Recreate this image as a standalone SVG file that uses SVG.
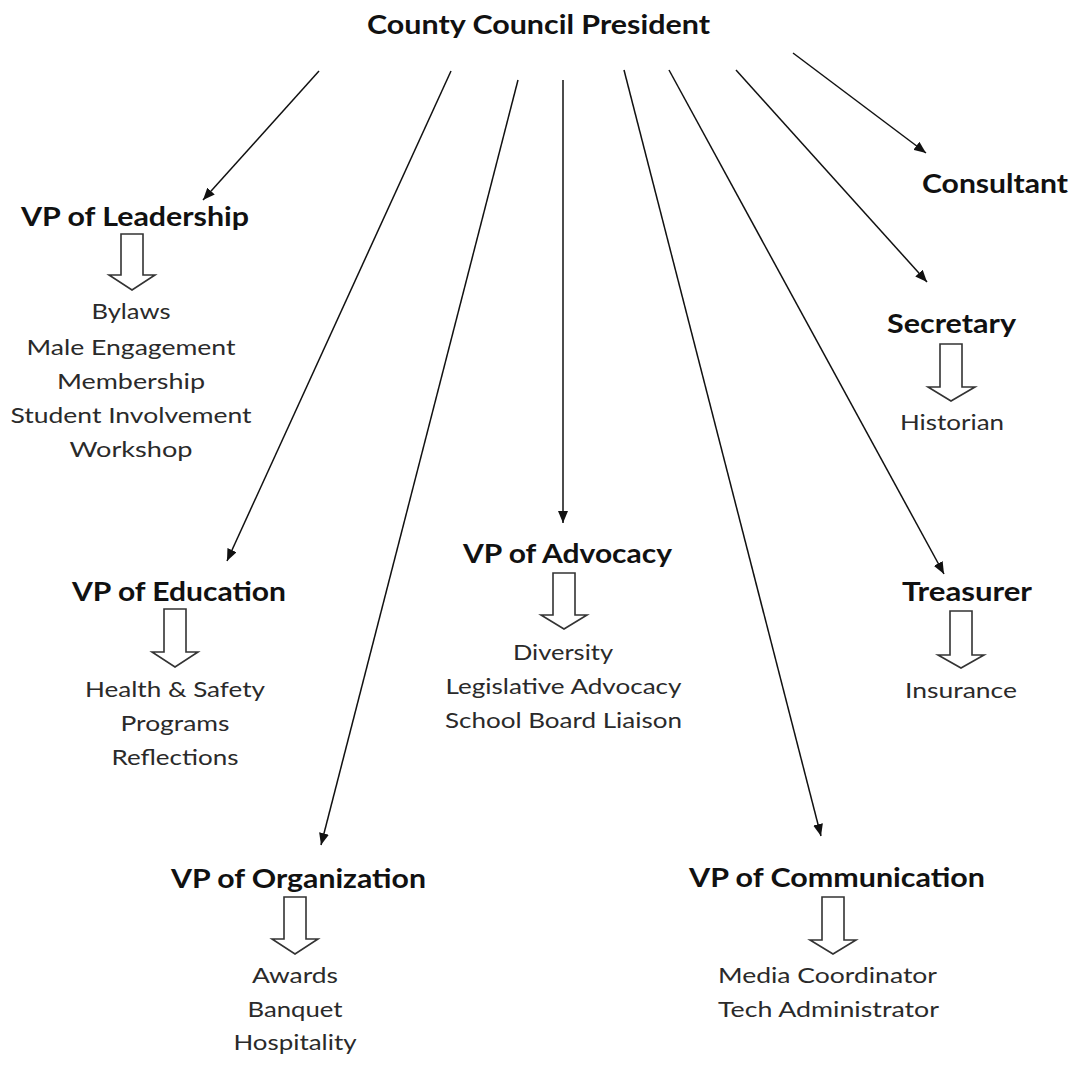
<svg xmlns="http://www.w3.org/2000/svg" width="1077" height="1067" viewBox="0 0 1077 1067">
<defs>
<marker id="ah" viewBox="0 0 12 10" refX="12" refY="5" markerWidth="12" markerHeight="10" markerUnits="userSpaceOnUse" orient="auto">
<path d="M0,0 L12,5 L0,10 z" fill="#111"/>
</marker>
<style>
.hd{font-family:Lato,"Open Sans","Liberation Sans",sans-serif;font-weight:700;font-size:27px;fill:#111;text-anchor:middle}
.it{font-family:Lato,"Open Sans","Liberation Sans",sans-serif;font-weight:400;font-size:21px;fill:#2a2a2a;text-anchor:middle}
.cn{stroke:#111;stroke-width:1.5;fill:none;marker-end:url(#ah)}
.ha{fill:#fff;stroke:#333;stroke-width:1.6;stroke-linejoin:miter}
</style>
</defs>
<rect width="1077" height="1067" fill="#fff"/>

<g id="connectors">
<line class="cn" x1="319" y1="71" x2="203" y2="200"/>
<line class="cn" x1="451" y1="71" x2="227" y2="561"/>
<line class="cn" x1="518" y1="80" x2="321" y2="845"/>
<line class="cn" x1="563" y1="80" x2="563" y2="523"/>
<line class="cn" x1="624" y1="70" x2="821" y2="836"/>
<line class="cn" x1="669" y1="70" x2="944" y2="574"/>
<line class="cn" x1="736" y1="70" x2="927" y2="282"/>
<line class="cn" x1="793" y1="53" x2="926" y2="153"/>
</g>

<g id="president">
<text class="hd" x="538.5" y="33.5" textLength="343" lengthAdjust="spacingAndGlyphs">County Council President</text>
</g>

<g id="consultant">
<text class="hd" x="995" y="193" textLength="146" lengthAdjust="spacingAndGlyphs">Consultant</text>
</g>

<g id="leadership">
<text class="hd" x="135" y="226" textLength="228" lengthAdjust="spacingAndGlyphs">VP of Leadership</text>
<path class="ha" d="M121,234 H143 V275 H155 L132,290 L109,275 H121 Z"/>
<text class="it" x="131" y="319" textLength="79" lengthAdjust="spacingAndGlyphs">Bylaws</text>
<text class="it" x="131" y="355" textLength="209" lengthAdjust="spacingAndGlyphs">Male Engagement</text>
<text class="it" x="131" y="389" textLength="148" lengthAdjust="spacingAndGlyphs">Membership</text>
<text class="it" x="131" y="423" textLength="241" lengthAdjust="spacingAndGlyphs">Student Involvement</text>
<text class="it" x="131" y="457" textLength="123" lengthAdjust="spacingAndGlyphs">Workshop</text>
</g>

<g id="secretary">
<text class="hd" x="951.5" y="333" textLength="129" lengthAdjust="spacingAndGlyphs">Secretary</text>
<path class="ha" d="M940,344 H962 V387 H975 L951,401 L928,387 H940 Z"/>
<text class="it" x="952" y="430" textLength="104" lengthAdjust="spacingAndGlyphs">Historian</text>
</g>

<g id="education">
<text class="hd" x="179" y="601" textLength="214" lengthAdjust="spacingAndGlyphs">VP of Education</text>
<path class="ha" d="M164,609 H186 V652 H198 L175,667 L152,652 H164 Z"/>
<text class="it" x="175" y="697" textLength="180" lengthAdjust="spacingAndGlyphs">Health &amp; Safety</text>
<text class="it" x="175" y="731" textLength="109" lengthAdjust="spacingAndGlyphs">Programs</text>
<text class="it" x="175" y="764.5" textLength="127" lengthAdjust="spacingAndGlyphs">Reflections</text>
</g>

<g id="advocacy">
<text class="hd" x="567.5" y="563" textLength="209" lengthAdjust="spacingAndGlyphs">VP of Advocacy</text>
<path class="ha" d="M553,573 H575 V615 H587 L564,629 L541,615 H553 Z"/>
<text class="it" x="563" y="659.5" textLength="100" lengthAdjust="spacingAndGlyphs">Diversity</text>
<text class="it" x="563.5" y="693.5" textLength="236" lengthAdjust="spacingAndGlyphs">Legislative Advocacy</text>
<text class="it" x="563.5" y="727.5" textLength="237" lengthAdjust="spacingAndGlyphs">School Board Liaison</text>
</g>

<g id="treasurer">
<text class="hd" x="967" y="601" textLength="130" lengthAdjust="spacingAndGlyphs">Treasurer</text>
<path class="ha" d="M950,611 H972 V655 H984 L961,668 L938,655 H950 Z"/>
<text class="it" x="961" y="698" textLength="112" lengthAdjust="spacingAndGlyphs">Insurance</text>
</g>

<g id="organization">
<text class="hd" x="298.5" y="887.5" textLength="255" lengthAdjust="spacingAndGlyphs">VP of Organization</text>
<path class="ha" d="M284,897 H306 V939 H318 L295,954 L272,939 H284 Z"/>
<text class="it" x="295" y="982.5" textLength="86" lengthAdjust="spacingAndGlyphs">Awards</text>
<text class="it" x="295" y="1016.5" textLength="95" lengthAdjust="spacingAndGlyphs">Banquet</text>
<text class="it" x="295" y="1050" textLength="123" lengthAdjust="spacingAndGlyphs">Hospitality</text>
</g>

<g id="communication">
<text class="hd" x="837" y="886.5" textLength="296" lengthAdjust="spacingAndGlyphs">VP of Communication</text>
<path class="ha" d="M822,897 H844 V940 H856 L833,954 L810,940 H822 Z"/>
<text class="it" x="827.5" y="982.7" textLength="219" lengthAdjust="spacingAndGlyphs">Media Coordinator</text>
<text class="it" x="828.5" y="1016.5" textLength="221" lengthAdjust="spacingAndGlyphs">Tech Administrator</text>
</g>
</svg>
